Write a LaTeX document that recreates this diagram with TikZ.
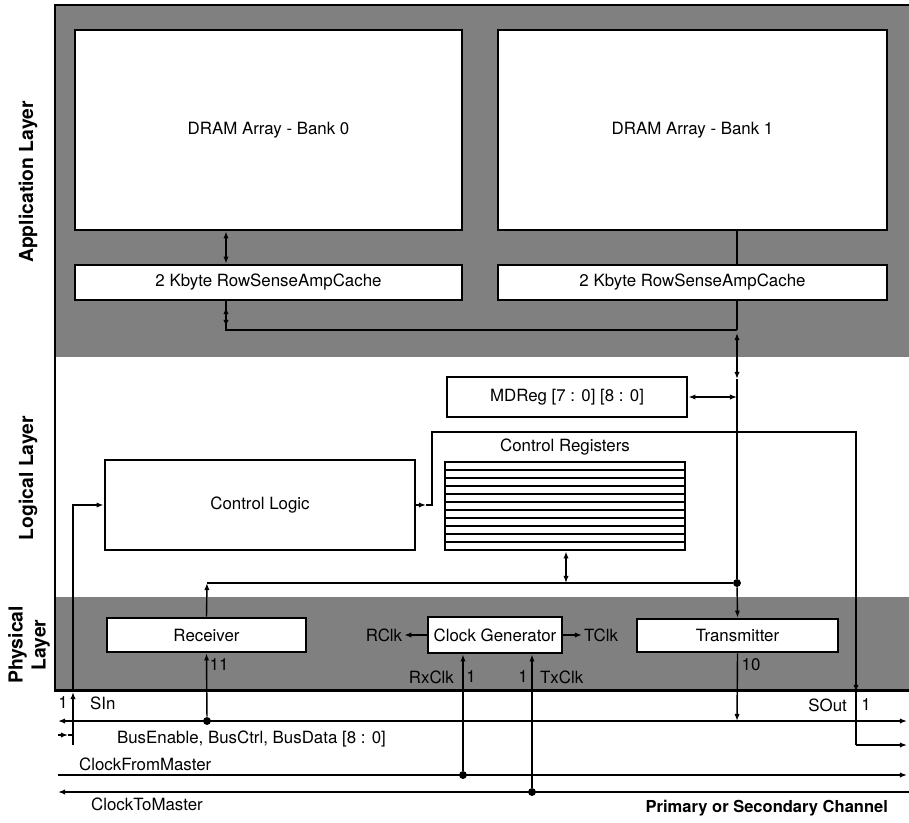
\documentclass[tikz,border=0pt]{standalone}
\usepackage{fontspec}
\setmainfont{TeX Gyre Heros}
\usetikzlibrary{arrows.meta}

\tikzset{
  blk/.style={draw, line width=1.6pt, fill=white, inner sep=0pt},
  wire/.style={line width=0.8pt},
  layer/.style={font=\fontsize{11}{13}\selectfont\bfseries, rotate=90, align=center},
  tag/.style={inner sep=1pt},
  dot/.style={circle, fill=black, inner sep=0pt, minimum size=4.5pt},
}

\begin{document}
\begin{tikzpicture}[x=0.02cm, y=-0.02cm, >={Latex[length=4pt,width=3pt]}, font=\fontsize{9.6}{11}\selectfont]
	\useasboundingbox (0,0) rectangle (909,822);

	% layers
	\fill[black!50] (55,5) rectangle (909,357);
	\fill[black!50] (55,597) rectangle (909,690);
	\draw[line width=1.7pt] (909,5) -- (55,5) -- (55,690) -- (909,690);

	\node[layer] (app) at (28,182) {Application Layer};
	\node[layer] (logic) at (28,478) {Logical Layer};
	\node[layer] (phys) at (29,645) {Physical\\Layer};

	% application layer
	\node[blk, minimum width=7.74cm, minimum height=4cm] (bank0) at (268.5,130) {DRAM Array - Bank 0};
	\node[blk, minimum width=7.78cm, minimum height=4cm] (bank1) at (692.5,130) {DRAM Array - Bank 1};
	\node[blk, minimum width=7.74cm, minimum height=0.7cm] (cache0) at (268.5,282.5) {2 Kbyte RowSenseAmpCache};
	\node[blk, minimum width=7.78cm, minimum height=0.7cm] (cache1) at (692.5,282.5) {2 Kbyte RowSenseAmpCache};

	% logical layer
	\node[blk, minimum width=4.8cm, minimum height=0.8cm] (mdreg) at (567,397) {MDReg [7 : 0] [8 : 0]};
	\node[blk, minimum width=6.2cm, minimum height=1.8cm] (ctl) at (260,505) {Control Logic};
	\node[blk, minimum width=4.8cm, minimum height=1.76cm] (regs) at (565,506) {};
	\foreach \i in {1,...,10}
		\draw[line width=1.1pt] (445,462+8*\i) -- (685,462+8*\i);
	\node[tag, above=2pt] (regslbl) at (regs.north) {Control Registers};

	% physical layer
	\node[blk, minimum width=3.98cm, minimum height=0.68cm] (rx) at (206.5,635) {Receiver};
	\node[blk, minimum width=2.68cm, minimum height=0.72cm] (cg) at (495,635) {Clock Generator};
	\node[blk, minimum width=4.02cm, minimum height=0.66cm] (tx) at (737.5,635.5) {Transmitter};
	\node[tag] (rclk) at (384,635) {RClk};
	\node[tag] (tclk) at (601,635) {TClk};
	\node[tag, anchor=east] (rxclk) at (456,677) {RxClk};
	\node[tag] (rxw) at (471,677) {1};
	\node[tag] (txw) at (523,677) {1};
	\node[tag, anchor=west] (txclk) at (538,677) {TxClk};
	\node[tag] (rxn) at (219,665) {11};
	\node[tag] (txn) at (751,665) {10};

	% junctions
	\coordinate (t0) at (226,0);
	\coordinate (t1) at (737,0);
	\coordinate (t2) at (566,0);
	\coordinate (m0) at (226,330);
	\coordinate (m1) at (737,330);
	\node[dot] (jreg) at (737,583) {};
	\node[dot] (jrx) at (207,721) {};
	\node[dot] (jrc) at (463,775) {};
	\node[dot] (jtc) at (532,792) {};
	\coordinate (rxup) at (207,583);
	\coordinate (jtx) at (737,721);

	% data path
	\draw[wire,<->] (bank0.south -| t0) -- (cache0.north -| t0);
	\draw[wire] (bank1.south -| t1) -- (cache1.north -| t1);
	\draw[wire] (cache0.south -| t0) -- (m0) -- (m1);
	\draw[wire,<->] (226,307) -- (226,327);
	\draw[wire] (cache1.south -| t1) -- (m1);
	\draw[wire,<->] (737,333) -- (737,379);
	\draw[wire] (737,379) -- (jreg);
	\draw[wire,<->] (mdreg.east) -- (mdreg.east -| t1);
	\draw[wire,<->] (regs.south -| t2) -- (t2 |- jreg);
	\draw[wire,->] (rx.north) -- (rxup);
	\draw[wire] (rxup) -- (jreg);
	\draw[wire,->] (jreg) -- (tx.north);
	\draw[wire,->] (tx.south) -- (jtx);
	\draw[wire,->] (jrx) -- (rx.south);

	% clocks
	\draw[wire,->] (cg.west) -- (rclk.east);
	\draw[wire,->] (cg.east) -- (tclk.west);
	\draw[wire,->] (jrc) -- (jrc |- cg.south);
	\draw[wire,->] (jtc) -- (jtc |- cg.south);

	% serial in / out
	\draw[wire,->] (58,735) -- (68,735);
	\draw[wire] (68,735) -- (73,735) -- (73,745);
	\draw[wire,->] (73,735) -- (73,692);
	\draw[wire,->] (73,692) -- (73,505) -- (ctl.west);
	\draw[wire,->] (ctl.east) -- (426,505);
	\draw[wire] (426,505) -- (432,505) -- (432,432) -- (856,432) -- (856,745);
	\draw[wire,->] (856,668) -- (856,692);
	\draw[wire,->] (856,745) -- (907,745);

	% channel
	\draw[wire,<->] (58,721) -- (907,721);
	\draw[wire,->] (58,775) -- (907,775);
	\draw[wire,<-] (58,792) -- (909,792);

	\node[tag] (sinw) at (63,703) {1};
	\node[tag, anchor=west] (sin) at (88,703) {SIn};
	\node[tag, anchor=east] (sout) at (849,705) {SOut};
	\node[tag] (soutw) at (866,705) {1};
	\node[tag, anchor=west] (bus) at (115,739) {BusEnable, BusCtrl, BusData [8 : 0]};
	\node[tag, anchor=west] (cfm) at (77,764) {ClockFromMaster};
	\node[tag, anchor=west] (ctm) at (89,804) {ClockToMaster};
	\node[tag, anchor=east, font=\fontsize{9.4}{11}\selectfont\bfseries] (chan) at (890,808) {Primary or Secondary Channel};
\end{tikzpicture}
\end{document}
